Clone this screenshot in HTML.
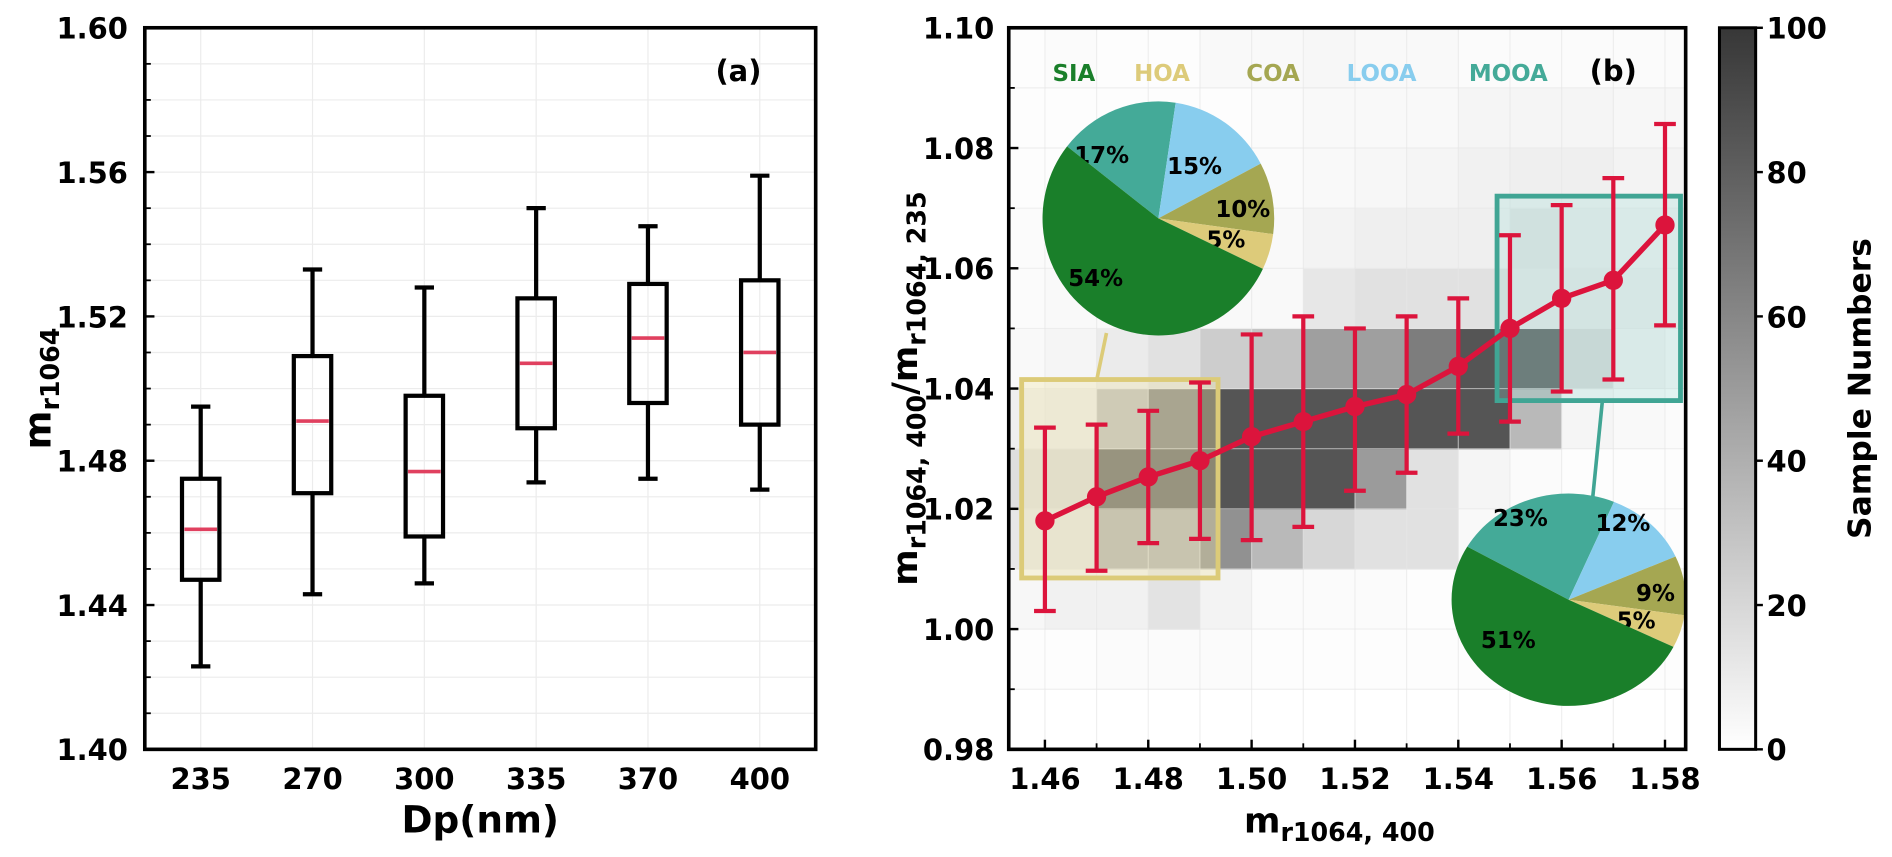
<!DOCTYPE html>
<html><head><meta charset="utf-8"><style>
html,body{margin:0;padding:0;background:#fff;}
svg{display:block;font-family:"DejaVu Sans","Liberation Sans",sans-serif;font-weight:bold;}
</style></head><body>
<svg id="fig" width="1892" height="857" viewBox="0 0 1568 710.2" xmlns="http://www.w3.org/2000/svg">
<g id="pa"></g>
<g id="pb"></g>
</svg>
<script>
// ---------- Panel (a) data ----------
const catsA = ["235","270","300","335","370","400"];
const whiskLo = [1.423,1.443,1.446,1.474,1.475,1.472];
const q1 = [1.447,1.471,1.459,1.489,1.496,1.490];
const med = [1.461,1.491,1.477,1.507,1.514,1.510];
const q3 = [1.475,1.509,1.498,1.525,1.529,1.530];
const whiskHi = [1.495,1.533,1.528,1.550,1.545,1.559];
const yTicksA = [1.40,1.44,1.48,1.52,1.56,1.60];

// ---------- Panel (b) data ----------
const xsB = [1.46,1.47,1.48,1.49,1.50,1.51,1.52,1.53,1.54,1.55,1.56,1.57,1.58];
const ysB = [1.018,1.022,1.0253,1.028,1.032,1.0345,1.037,1.039,1.0437,1.050,1.055,1.058,1.0672];
const errHi = [1.0335,1.034,1.0363,1.041,1.049,1.052,1.050,1.052,1.055,1.0655,1.0705,1.075,1.084];
const errLo = [1.003,1.0097,1.0143,1.015,1.0148,1.017,1.023,1.026,1.0325,1.0345,1.0395,1.0415,1.0505];
const heatCols = [1.45,1.46,1.47,1.48,1.49,1.50,1.51,1.52,1.53,1.54,1.55,1.56,1.57,1.58];
const heatRows = [0.99,1.00,1.01,1.02,1.03,1.04,1.05,1.06,1.07,1.08,1.09];
const heatVals = [
 [1,1,2,2,2,1,1,1,1,1,1,1,1,1],
 [4,7,7,14,6,2,2,2,1,1,1,1,1,1],
 [12,14,38,38,55,35,20,15,15,3,2,1,1,1],
 [16,18,75,75,85,85,85,50,15,5,2,1,1,1],
 [8,10,33,62,85,85,85,85,85,85,35,5,3,2],
 [3,5,10,15,25,30,48,48,65,85,80,20,8,5],
 [2,3,3,3,3,3,12,15,15,15,12,12,10,8],
 [2,2,2,2,2,3,6,8,8,8,14,10,8,8],
 [1,1,1,1,2,2,3,4,5,7,8,8,6,6],
 [1,1,1,1,1,2,3,3,3,5,5,5,4,4],
 [1,2,1,1,3,3,4,3,3,2,2,2,2,2]
];
const xTicksB = [1.46,1.48,1.50,1.52,1.54,1.56,1.58];
const yTicksB = [0.98,1.00,1.02,1.04,1.06,1.08,1.10];
const cbTicks = [0,20,40,60,80,100];
const pieLabels = ["MOOA","LOOA","COA","HOA","SIA"];
const pie1Vals = [17,15,10,5,54];
const pie2Vals = [23,12,9,5,51];
const legendNames = ["SIA","HOA","COA","LOOA","MOOA"];

const NS="http://www.w3.org/2000/svg";
function mk(parent,tag,attrs,txt){const e=document.createElementNS(NS,tag);for(const k in attrs)e.setAttribute(k,attrs[k]);if(txt!==undefined)e.textContent=txt;parent.appendChild(e);return e;}
const colors={SIA:"#1a7f2a",HOA:"#ddcb7a",COA:"#a5a752",LOOA:"#88cdee",MOOA:"#44aa98"};
const TF=24;

// ===== Panel A =====
const pa=document.getElementById('pa');
const AL=120,AR=676,AT=23,AB=621;
const ax=i=>AL+(i+0.5)*(AR-AL)/catsA.length;
const ay=v=>AB-(v-1.40)/(0.20)*(AB-AT);
for(let v=1.40;v<=1.6001;v+=0.01){const y=ay(v);
 const g=mk(pa,'line',{x1:AL,x2:AR,y1:y,y2:y,stroke:'#ececec','stroke-width':1});
 
 const t=mk(pa,'line',{x1:AL,x2:AL+5,y1:y,y2:y,stroke:'#000','stroke-width':1.5});
 }
catsA.forEach((c,i)=>{const x=ax(i);
 const g=mk(pa,'line',{x1:x,x2:x,y1:AT,y2:AB,stroke:'#ececec','stroke-width':1});
 });
yTicksA.forEach(v=>{const y=ay(v);
 mk(pa,'line',{x1:AL,x2:AL+8,y1:y,y2:y,stroke:'#000','stroke-width':2});
 const t=mk(pa,'text',{x:106,y:y+9,'text-anchor':'end','font-size':TF},v.toFixed(2));
 });
const bw=15.5,cw=8;
catsA.forEach((c,i)=>{const x=ax(i);
 const g=mk(pa,'g',{});
 
 const s={stroke:'#000','stroke-width':3.5,fill:'none'};
 mk(g,'line',Object.assign({x1:x,x2:x,y1:ay(whiskLo[i]),y2:ay(q1[i])},s));
 mk(g,'line',Object.assign({x1:x,x2:x,y1:ay(q3[i]),y2:ay(whiskHi[i])},s));
 mk(g,'line',Object.assign({x1:x-cw,x2:x+cw,y1:ay(whiskLo[i]),y2:ay(whiskLo[i])},s));
 mk(g,'line',Object.assign({x1:x-cw,x2:x+cw,y1:ay(whiskHi[i]),y2:ay(whiskHi[i])},s));
 mk(g,'rect',Object.assign({x:x-bw,y:ay(q3[i]),width:2*bw,height:ay(q1[i])-ay(q3[i])},s));
 mk(g,'line',{x1:x-bw+2,x2:x+bw-2,y1:ay(med[i]),y2:ay(med[i]),stroke:'#e0405f','stroke-width':3});
 const t=mk(pa,'text',{x:x,y:654,'text-anchor':'middle','font-size':TF},c);
 });
const fa=mk(pa,'rect',{x:AL,y:AT,width:AR-AL,height:AB-AT,fill:'none',stroke:'#000','stroke-width':3});

const la=mk(pa,'text',{x:612,y:67,'text-anchor':'middle','font-size':TF},'(a)');

const xla=mk(pa,'text',{x:398,y:690,'text-anchor':'middle','font-size':31},'Dp(nm)');

const yla=mk(pa,'text',{x:0,y:0,'text-anchor':'middle','font-size':31,transform:'translate(42,322) rotate(-90)'});

yla.innerHTML='m<tspan font-size="21" dy="7">r1064</tspan>';

// ===== Panel B =====
const pb=document.getElementById('pb');
const BL=836,BR=1397,BT=23,BB=621;
const X0=1.453,X1=1.584;
const bx=v=>BL+(v-X0)/(X1-X0)*(BR-BL);
const by=v=>BB-(v-0.98)/0.12*(BB-BT);
mk(pb,'defs',{}).innerHTML='<clipPath id="clipb"><rect x="'+BL+'" y="'+BT+'" width="'+(BR-BL)+'" height="'+(BB-BT)+'"/></clipPath>';
const hm=mk(pb,'g',{'clip-path':'url(#clipb)'});

const gray=v=>{const g=Math.round(255-v*2.0);return 'rgb('+g+','+g+','+g+')';};
heatRows.forEach((r,ri)=>heatCols.forEach((c,ci)=>{
 const cell=mk(hm,'rect',{x:bx(c),y:by(r+0.01),width:bx(c+0.01)-bx(c)+0.5,height:by(r)-by(r+0.01)+0.5,fill:gray(heatVals[ri][ci])});
 }));
for(let v=0.98;v<=1.1001;v+=0.01){const y=by(v);
 const g=mk(pb,'line',{x1:BL,x2:BR,y1:y,y2:y,stroke:'#e6e6e6','stroke-width':1,opacity:0.6});
 
 mk(pb,'line',{x1:BL,x2:BL+5,y1:y,y2:y,stroke:'#000','stroke-width':1.5});}
for(let v=1.46;v<=1.5801;v+=0.01){const x=bx(v);
 const g=mk(pb,'line',{x1:x,x2:x,y1:BT,y2:BB,stroke:'#e6e6e6','stroke-width':1,opacity:0.6});
 
 mk(pb,'line',{x1:x,x2:x,y1:BB,y2:BB-5,stroke:'#000','stroke-width':1.5});}
yTicksB.forEach(v=>{const y=by(v);
 mk(pb,'line',{x1:BL,x2:BL+8,y1:y,y2:y,stroke:'#000','stroke-width':2});
 const t=mk(pb,'text',{x:824,y:y+9,'text-anchor':'end','font-size':TF},v.toFixed(2));
 });
xTicksB.forEach(v=>{const x=bx(v);
 mk(pb,'line',{x1:x,x2:x,y1:BB,y2:BB-8,stroke:'#000','stroke-width':2});
 const t=mk(pb,'text',{x:x,y:654,'text-anchor':'middle','font-size':TF},v.toFixed(2));
 });
// highlight boxes
const yb=mk(pb,'rect',{x:bx(1.4555),y:by(1.0415),width:bx(1.4935)-bx(1.4555),height:by(1.0085)-by(1.0415),fill:'rgba(240,228,170,0.35)',stroke:'#dccb78','stroke-width':4});

const tb=mk(pb,'rect',{x:bx(1.5475),y:by(1.072),width:bx(1.583)-bx(1.5475),height:by(1.038)-by(1.072),fill:'rgba(150,220,210,0.25)',stroke:'#40a594','stroke-width':4});

mk(pb,'line',{x1:917,y1:276,x2:909,y2:by(1.0415),stroke:'#dccb78','stroke-width':3});
mk(pb,'line',{x1:1328,y1:by(1.038),x2:1320,y2:412,stroke:'#40a594','stroke-width':3});
// series
const ser=mk(pb,'g',{});

const red='#dc143c';
xsB.forEach((x,i)=>{const X=bx(x);
 const e=mk(ser,'g',{});
 
 mk(e,'line',{x1:X,x2:X,y1:by(errLo[i]),y2:by(errHi[i]),stroke:red,'stroke-width':3.5});
 mk(e,'line',{x1:X-9,x2:X+9,y1:by(errLo[i]),y2:by(errLo[i]),stroke:red,'stroke-width':3.5});
 mk(e,'line',{x1:X-9,x2:X+9,y1:by(errHi[i]),y2:by(errHi[i]),stroke:red,'stroke-width':3.5});});
mk(ser,'polyline',{points:xsB.map((x,i)=>bx(x)+','+by(ysB[i])).join(' '),fill:'none',stroke:red,'stroke-width':4.5});
xsB.forEach((x,i)=>{const p=mk(ser,'circle',{cx:bx(x),cy:by(ysB[i]),r:8,fill:red});
 });
// pies
function pie(cx,cy,rx,ry,start,vals,labPos,name){
 const g=mk(pb,'g',{});
 
 const tot=vals.reduce((a,b)=>a+b,0);let a=start;
 vals.forEach((v,i)=>{const a2=a-v/tot*360;
  const r1=a*Math.PI/180,r2=a2*Math.PI/180;
  const x1=cx+rx*Math.cos(r1),y1=cy-ry*Math.sin(r1),x2=cx+rx*Math.cos(r2),y2=cy-ry*Math.sin(r2);
  const large=(a-a2)>180?1:0;
  const w=mk(g,'path',{d:`M${cx},${cy} L${x1},${y1} A${rx},${ry} 0 ${large} 1 ${x2},${y2} Z`,fill:colors[pieLabels[i]]});
  
  const t=mk(g,'text',{x:labPos[i][0],y:labPos[i][1],'text-anchor':'middle','font-size':19},v+'%');
  
  a=a2;});
}
pie(960,181,96,97,142,pie1Vals,[[913,135],[990,144],[1030,180],[1016,205],[908,237]],'pie-low');
pie(1300,497,97,88,150,pie2Vals,[[1260,436],[1345,440],[1372,498],[1356,521],[1250,537]],'pie-high');
// legend
const legX=[890,963,1055,1145,1250];
legendNames.forEach((n,i)=>{const t=mk(pb,'text',{x:legX[i],y:67,'text-anchor':'middle','font-size':19,fill:colors[n]},n);
 });
const lb=mk(pb,'text',{x:1337,y:67,'text-anchor':'middle','font-size':TF},'(b)');

const fb=mk(pb,'rect',{x:BL,y:BT,width:BR-BL,height:BB-BT,fill:'none',stroke:'#000','stroke-width':3});

const xlb=mk(pb,'text',{x:1110,y:690,'text-anchor':'middle','font-size':29});

xlb.innerHTML='m<tspan font-size="21" dy="7">r1064, 400</tspan>';
const ylb=mk(pb,'text',{x:0,y:0,'text-anchor':'middle','font-size':29,transform:'translate(760,322) rotate(-90)'});

ylb.innerHTML='m<tspan font-size="21" dy="7">r1064, 400</tspan><tspan dy="-7">/m</tspan><tspan font-size="21" dy="7">r1064, 235</tspan>';
// colorbar
const CL=1425,CR=1455;
const cb=mk(pb,'g',{});

mk(cb,'defs',{}).innerHTML='<linearGradient id="cbg" x1="0" y1="1" x2="0" y2="0"><stop offset="0" stop-color="#ffffff"/><stop offset="1" stop-color="#373737"/></linearGradient>';
mk(cb,'rect',{x:CL,y:BT,width:CR-CL,height:BB-BT,fill:'url(#cbg)',stroke:'#000','stroke-width':2.5});
cbTicks.forEach(v=>{const y=BB-v/100*(BB-BT);
 mk(cb,'line',{x1:CR,x2:CR+6,y1:y,y2:y,stroke:'#000','stroke-width':2});
 const t=mk(cb,'text',{x:1464,y:y+9,'font-size':TF},String(v));
 });
const cbt=mk(cb,'text',{x:0,y:0,'text-anchor':'middle','font-size':26,transform:'translate(1550,322) rotate(-90)'},'Sample Numbers');

</script>
</body></html>
